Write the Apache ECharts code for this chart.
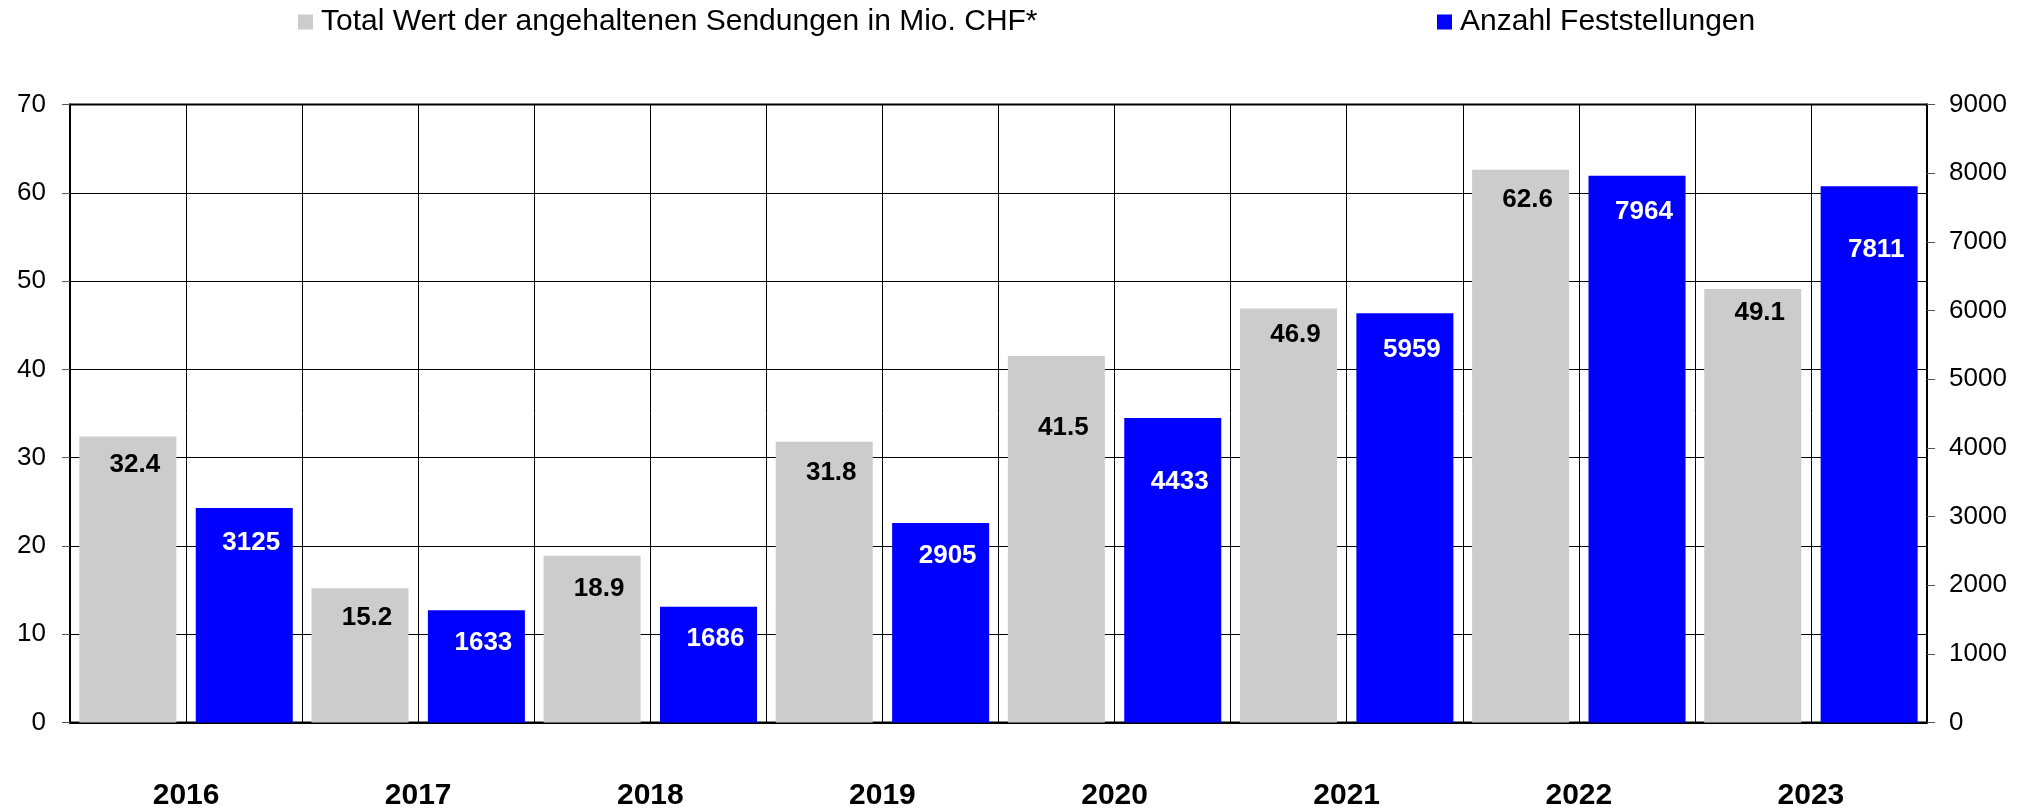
<!DOCTYPE html>
<html>
<head>
<meta charset="utf-8">
<script src="https://cdn.jsdelivr.net/npm/echarts@6/dist/echarts.min.js"></script>
<style>
html,body{margin:0;padding:0;background:#fff;}
#c{width:2025px;height:809px;}
</style>
</head>
<body>
<div id="c"></div>
<script>
const categories = ['2016','2017','2018','2019','2020','2021','2022','2023'];
const seriesNames = ['Total Wert der angehaltenen Sendungen in Mio. CHF*', 'Anzahl Feststellungen'];
const valueMio = [32.4, 15.2, 18.9, 31.8, 41.5, 46.9, 62.6, 49.1];
const countFest = [3125, 1633, 1686, 2905, 4433, 5959, 7964, 7811];
const leftTicks = {min: 0, max: 70, interval: 10};
const rightTicks = {min: 0, max: 9000, interval: 1000};

// style: extra downward shift (px) of each data label, as placed in the original
const grayLabelDrop = [1, 3, 6, 4, 45, -1, 3, -3];
const blueLabelDrop = [8, 5, 5, 6, 37, 10, 9, 37];

const FONT = 'Liberation Sans, Arial, sans-serif';
const chart = echarts.init(document.getElementById('c'), null, {renderer: 'canvas'});
chart.setOption({
  animation: false,
  backgroundColor: '#fff',
  textStyle: {fontFamily: FONT},
  legend: [
    {data: [seriesNames[0]], left: 298, top: 7, padding: 0, itemWidth: 15, itemHeight: 15, icon: 'rect',
     textStyle: {fontSize: 30, color: '#000', fontFamily: FONT, padding: [0, 0, 4, 3]}},
    {data: [seriesNames[1]], left: 1437, top: 7, padding: 0, itemWidth: 15, itemHeight: 15, icon: 'rect',
     textStyle: {fontSize: 30, color: '#000', fontFamily: FONT, padding: [0, 0, 4, 3]}}
  ],
  grid: {left: 70, right: 98, top: 104.5, bottom: 86.5, outerBoundsMode: 'none', containLabel: false,
         show: true, borderColor: '#000', borderWidth: 2, backgroundColor: 'transparent'},
  xAxis: [
    {type: 'category', data: categories, boundaryGap: true,
     axisLine: {show: true, lineStyle: {color: '#000', width: 2}},
     axisTick: {show: false},
     splitLine: {show: false},
     axisLabel: {fontSize: 30, fontWeight: 'bold', color: '#000', margin: 58, fontFamily: FONT}},
    {type: 'value', min: 0, max: categories.length * 2, interval: 1, position: 'bottom',
     axisLine: {show: false}, axisTick: {show: false}, axisLabel: {show: false},
     splitLine: {show: true, lineStyle: {color: '#000', width: 1}}}
  ],
  yAxis: [
    {type: 'value', min: leftTicks.min, max: leftTicks.max, interval: leftTicks.interval, position: 'left',
     axisLine: {show: true, lineStyle: {color: '#000', width: 2}},
     axisTick: {show: true, length: 8, lineStyle: {color: '#555', width: 1}},
     axisLabel: {fontSize: 26, color: '#000', margin: 24, fontFamily: FONT},
     splitLine: {show: true, lineStyle: {color: '#000', width: 1}}},
    {type: 'value', min: rightTicks.min, max: rightTicks.max, interval: rightTicks.interval, position: 'right',
     axisLine: {show: true, lineStyle: {color: '#000', width: 2}},
     axisTick: {show: true, length: 8, lineStyle: {color: '#555', width: 1}},
     axisLabel: {fontSize: 26, color: '#000', margin: 22, fontFamily: FONT, formatter: v => String(v)},
     splitLine: {show: false}}
  ],
  series: [
    {name: seriesNames[0], type: 'bar', xAxisIndex: 0, yAxisIndex: 0,
     data: valueMio.map((v, i) => ({value: v, label: {offset: [7, grayLabelDrop[i]]}})),
     barWidth: 97, barGap: '20%', itemStyle: {color: '#cccccc'},
     label: {show: true, position: 'insideTop', distance: 14,
             fontSize: 26, fontWeight: 'bold', color: '#000', fontFamily: FONT,
             formatter: p => p.value.toFixed(1)}},
    {name: seriesNames[1], type: 'bar', xAxisIndex: 0, yAxisIndex: 1,
     data: countFest.map((v, i) => ({value: v, label: {offset: [7, blueLabelDrop[i]]}})),
     barWidth: 97, barGap: '20%', itemStyle: {color: '#0000ff'},
     label: {show: true, position: 'insideTop', distance: 14,
             fontSize: 26, fontWeight: 'bold', color: '#fff', fontFamily: FONT}}
  ]
});
</script>
</body>
</html>
